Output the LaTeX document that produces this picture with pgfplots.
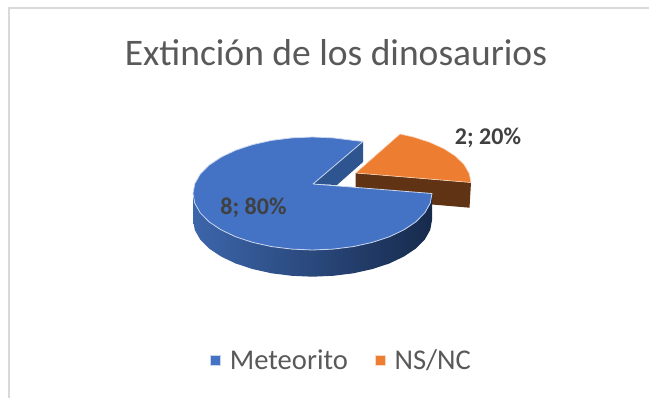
\documentclass[border=0pt]{standalone}
\usepackage{pgfplots}
\pgfplotsset{compat=1.18}
\usepackage{fontspec}
\setmainfont{Carlito}
\definecolor{meteorito}{HTML}{4472C4}
\definecolor{nsnc}{HTML}{ED7D31}
\definecolor{cutblue}{HTML}{2F5591}
\definecolor{wallbrown}{HTML}{5F3313}
\definecolor{wallL}{HTML}{3C66AB}
\definecolor{wallM}{HTML}{2C4F8C}
\definecolor{wallR}{HTML}{172A4C}
\definecolor{frameline}{HTML}{D9D9D9}
\definecolor{titlegray}{HTML}{595959}
\definecolor{labelgray}{HTML}{404040}
\definecolor{rim}{HTML}{C9D6EE}
\begin{document}
\begin{tikzpicture}
\begin{axis}[
  scale only axis,
  width=649pt, height=398pt,
  xmin=0, xmax=649, ymin=0, ymax=398,
  y dir=reverse,
  axis lines=none, ticks=none,
  title={Extinción de los dinosaurios},
  title style={at={(axis cs:336,59)}, anchor=center, font=\fontsize{37.5}{42}\selectfont, text=titlegray},
  legend columns=2,
  legend style={draw=none, fill=none, at={(axis cs:341.5,360)}, anchor=center,
    font=\fontsize{28.6}{32}\selectfont, text=titlegray,
    /tikz/every even column/.append style={column sep=25pt}},
  legend image code/.code={\fill[#1] (0pt,-5pt) rectangle (10pt,5pt); \path (17pt,0pt);},
]
% keeps the page at the full size of the axis
\addplot[forget plot, draw=none] coordinates {(0,0)(649,398)};
% chart frame
\addplot[forget plot, frameline, line width=2pt] coordinates {(8.5,398)(8.5,8)(649,8)};

% NS/NC slice: outer wall
\addplot[forget plot, fill=wallbrown, draw=none] coordinates {
  (355.7,173)(471,182.5)(469.5,207.7)(355.7,198)} --cycle;
% Meteorito slice: cut face
\addplot[forget plot, fill=cutblue, draw=none] coordinates {
  (363,141.5)(363,162)(337,185)(313,184)} --cycle;
% Meteorito slice: curved wall
\addplot[forget plot, draw=none, left color=wallL, middle color=wallM, right color=wallR] coordinates {
  (193,193.5)(194.8,203.3)(200.2,212.8)(209,221.75)(221,229.8)(235.7,236.8)
  (252.75,242.4)(271.6,246.6)(291.8,249.1)(312.5,250)(333.2,249.1)(353.4,246.6)
  (372.25,242.4)(389.3,236.8)(404,229.8)(416,221.75)(424.8,212.8)(430.2,203.3)(432,193.5)
  (432,220.2)(430.2,230)(424.8,239.5)(416,248.45)(404,256.5)(389.3,263.5)(372.25,269.1)
  (353.4,273.3)(333.2,275.8)(312.5,276.7)(291.8,275.8)(271.6,273.3)(252.75,269.1)
  (235.7,263.5)(221,256.5)(209,248.45)(200.2,239.5)(194.8,230)(193,220.2)} --cycle;

% top faces, carrying the legend entries
\addplot[fill=meteorito, draw=rim, line width=0.8pt, line join=round] coordinates {
  (313,184)(363,141.5)(353.4,140.4)(333.2,137.9)(312.5,137)(291.8,137.9)(271.6,140.4)
  (252.75,144.6)(235.7,150.2)(221,157.2)(209,165.25)(200.2,174.2)(194.8,183.7)(193,193.5)
  (194.8,203.3)(200.2,212.8)(209,221.75)(221,229.8)(235.7,236.8)(252.75,242.4)(271.6,246.6)
  (291.8,249.1)(312.5,250)(333.2,249.1)(353.4,246.6)(372.25,242.4)(389.3,236.8)(404,229.8)
  (416,221.75)(424.8,212.8)(430.2,203.3)(432,193.5)} --cycle;
\addlegendentry{Meteorito}
\addplot[fill=nsnc, draw=white!70!nsnc, line width=0.6pt, line join=round] coordinates {
  (355.7,173)(400,134)(413.35,137)(429.8,142.3)(444,148.75)(455.6,156.25)(464,164.5)
  (469.2,173.4)(471,182.5)} --cycle;
\addlegendentry{NS/NC}

% data labels
\node[font=\bfseries\fontsize{24}{28}\selectfont, text=labelgray] at (axis cs:253.5,208) {8; 80\%};
\node[font=\bfseries\fontsize{24}{28}\selectfont, text=labelgray] at (axis cs:488,138) {2; 20\%};
\end{axis}
\end{tikzpicture}
\end{document}
